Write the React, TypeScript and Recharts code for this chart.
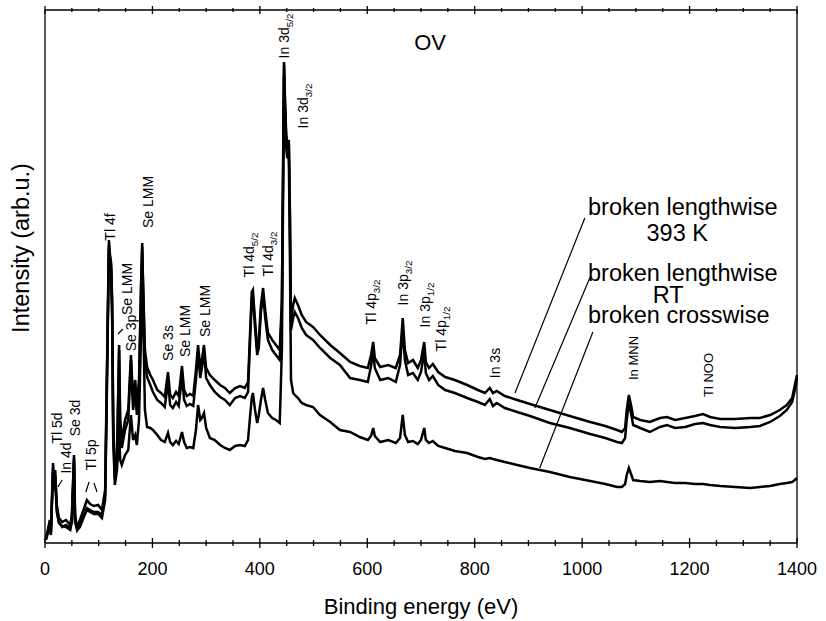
import React from 'react';
import {
  LineChart,
  Line,
  XAxis,
  YAxis,
  ReferenceDot,
  ReferenceLine
} from 'recharts';

const FONT = '"Liberation Sans", Arial, Helvetica, sans-serif';

// binding energy grid (eV), shared by the three spectra
const energy = [
  2, 6, 9, 11, 15, 17, 19, 22, 26, 32, 39, 47, 50, 54, 56, 60, 65, 73, 78, 84,
  91, 99, 106, 112, 115, 119, 121, 123, 125, 127, 130, 134, 138, 140, 143, 149, 155, 160, 164, 168,
  171, 175, 179, 181, 182, 186, 190, 196, 201, 209, 216, 223, 229, 233, 238, 244, 249, 255, 259, 264,
  270, 276, 281, 285, 289, 292, 296, 300, 307, 316, 326, 335, 344, 354, 363, 372, 378, 382, 385, 387,
  391, 395, 398, 402, 406, 410, 415, 423, 430, 437, 441, 445, 447, 449, 451, 452, 454, 456, 458, 462,
  465, 471, 478, 486, 499, 512, 531, 549, 568, 586, 601, 607, 611, 614, 624, 639, 653, 661, 666, 670,
  676, 685, 694, 700, 706, 709, 715, 722, 732, 745, 763, 786, 806, 819, 828, 834, 841, 856, 879, 903,
  940, 977, 1015, 1043, 1065, 1074, 1080, 1083, 1087, 1091, 1095, 1108, 1126, 1145, 1158, 1173, 1192, 1210, 1225, 1238,
  1257, 1285, 1313, 1331, 1350, 1368, 1381, 1391, 1396, 1400
];

// broken lengthwise, 393 K
const lengthwise393 = [
  5, 15, 23, 11, 80, 63, 73, 38, 25, 21, 23, 18, 28, 88, 28, 15, 23, 35, 43, 39,
  37, 38, 33, 53, 163, 303, 288, 281, 243, 123, 73, 88, 198, 123, 103, 123, 133, 188, 143, 163,
  138, 163, 263, 300, 273, 193, 176, 168, 163, 153, 150, 146, 171, 148, 145, 151, 147, 177, 153, 147,
  149, 147, 173, 198, 175, 183, 198, 175, 168, 163, 158, 155, 150, 155, 157, 155, 161, 213, 251, 253,
  223, 193, 203, 238, 255, 233, 210, 203, 198, 193, 243, 481, 440, 410, 398, 400, 403, 330, 223, 238,
  245, 238, 228, 221, 216, 208, 198, 190, 181, 177, 175, 188, 201, 185, 176, 178, 175, 188, 225, 193,
  180, 183, 175, 183, 201, 181, 175, 179, 171, 166, 163, 158, 153, 150, 155, 150, 152, 147, 143, 139,
  133, 127, 121, 117, 113, 111, 115, 133, 148, 138, 126, 123, 121, 125, 126, 123, 125, 127, 129, 126,
  124, 124, 125, 125, 128, 133, 138, 145, 158, 168
];

// broken lengthwise, RT
const lengthwiseRT = [
  5, 13, 21, 11, 75, 58, 68, 33, 21, 16, 18, 15, 23, 85, 23, 13, 18, 28, 35, 33,
  31, 31, 28, 48, 153, 298, 285, 278, 238, 113, 65, 81, 193, 113, 95, 113, 123, 183, 133, 151,
  128, 153, 258, 296, 268, 185, 166, 158, 151, 143, 140, 136, 161, 138, 135, 141, 137, 167, 143, 137,
  139, 137, 163, 191, 165, 175, 191, 165, 158, 151, 146, 143, 138, 145, 147, 145, 151, 205, 245, 247,
  215, 188, 195, 231, 249, 225, 203, 193, 188, 183, 233, 478, 435, 405, 393, 395, 398, 325, 213, 225,
  231, 225, 215, 208, 203, 195, 185, 178, 165, 163, 161, 177, 193, 175, 163, 165, 161, 178, 215, 183,
  168, 170, 163, 171, 191, 170, 163, 167, 158, 153, 150, 145, 141, 138, 144, 137, 140, 135, 131, 127,
  120, 115, 109, 105, 101, 100, 105, 123, 140, 130, 118, 115, 111, 116, 118, 115, 116, 119, 120, 118,
  116, 115, 116, 117, 121, 127, 133, 141, 153, 165
];

// broken crosswise
const crosswise = [
  3, 11, 18, 8, 71, 53, 61, 31, 20, 17, 16, 13, 21, 81, 21, 13, 16, 27, 33, 31,
  29, 29, 25, 43, 143, 293, 281, 273, 223, 103, 58, 73, 113, 83, 78, 88, 93, 128, 103, 108,
  98, 123, 213, 288, 253, 133, 116, 115, 113, 108, 103, 101, 110, 101, 98, 102, 99, 111, 101, 95,
  96, 95, 113, 138, 123, 125, 130, 115, 105, 103, 98, 95, 93, 97, 98, 97, 103, 128, 145, 150,
  133, 120, 128, 143, 155, 143, 130, 125, 123, 120, 193, 468, 425, 395, 385, 388, 383, 283, 163, 150,
  148, 145, 140, 138, 136, 128, 121, 113, 111, 106, 103, 107, 115, 107, 101, 103, 100, 105, 128, 108,
  101, 102, 99, 103, 115, 103, 100, 102, 97, 95, 92, 90, 86, 84, 85, 84, 83, 81, 78, 75,
  71, 66, 62, 59, 56, 56, 59, 68, 75, 69, 63, 62, 61, 62, 61, 60, 60, 59, 59, 58,
  57, 56, 55, 56, 57, 59, 60, 61, 63, 65
];

const xTicks = [
  0, 50, 100, 150, 200, 250, 300, 350, 400, 450, 500, 550, 600, 650, 700,
  750, 800, 850, 900, 950, 1000, 1050, 1100, 1150, 1200, 1250, 1300, 1350, 1400
];

// vertical peak labels: text, subscript, energy of the baseline, level of the centre
const peakLabels = [
  { text: 'Tl 5d', sub: '', ev: 31, level: 115, size: 14 },
  { text: 'In 4d', sub: '', ev: 48, level: 85, size: 14 },
  { text: 'Se 3d', sub: '', ev: 65, level: 125, size: 14 },
  { text: 'Tl 5p', sub: '', ev: 95, level: 88, size: 14 },
  { text: 'Tl 4f', sub: '', ev: 130, level: 316, size: 14 },
  { text: 'Se LMM', sub: '', ev: 162, level: 254, size: 14 },
  { text: 'Se 3p', sub: '', ev: 169, level: 210, size: 14 },
  { text: 'Se LMM', sub: '', ev: 201, level: 341, size: 14 },
  { text: 'Se 3s', sub: '', ev: 238, level: 200, size: 14 },
  { text: 'Se LMM', sub: '', ev: 270, level: 212, size: 14 },
  { text: 'Se LMM', sub: '', ev: 307, level: 232, size: 14 },
  { text: 'Tl 4d', sub: '5/2', ev: 389, level: 288, size: 14 },
  { text: 'Tl 4d', sub: '3/2', ev: 424, level: 289, size: 14 },
  { text: 'In 3d', sub: '5/2', ev: 454, level: 507, size: 14 },
  { text: 'In 3d', sub: '3/2', ev: 490, level: 437, size: 14 },
  { text: 'Tl 4p', sub: '3/2', ev: 616, level: 241, size: 14 },
  { text: 'In 3p', sub: '3/2', ev: 676, level: 260, size: 14 },
  { text: 'In 3p', sub: '1/2', ev: 717, level: 238, size: 14 },
  { text: 'Tl 4p', sub: '1/2', ev: 747, level: 214, size: 14 },
  { text: 'In 3s', sub: '', ev: 847, level: 180, size: 14 },
  { text: 'In MNN', sub: '', ev: 1104, level: 185, size: 13 },
  { text: 'Tl NOO', sub: '', ev: 1244, level: 168, size: 13 }
];

// horizontal texts: legend of the three curves and the panel name
const plainLabels = [
  { text: 'OV', ev: 717, level: 493, anchor: 'middle', size: 22 },
  { text: 'broken lengthwise', ev: 1011, level: 328, anchor: 'start', size: 23.5 },
  { text: '393 K', ev: 1177, level: 302, anchor: 'middle', size: 23.5 },
  { text: 'broken lengthwise', ev: 1011, level: 262, anchor: 'start', size: 23.5 },
  { text: 'RT', ev: 1160, level: 240, anchor: 'middle', size: 23.5 },
  { text: 'broken crosswise', ev: 1011, level: 220, anchor: 'start', size: 23.5 }
];

// leader lines from the legend texts to the curves, and small pointer ticks
const leaders = [
  [{ x: 1005, y: 325 }, { x: 875, y: 150 }],
  [{ x: 1015, y: 266 }, { x: 912, y: 135 }],
  [{ x: 1020, y: 211 }, { x: 921, y: 75 }],
  [{ x: 24, y: 56 }, { x: 32, y: 63 }],
  [{ x: 76, y: 51 }, { x: 82, y: 61 }],
  [{ x: 91, y: 60 }, { x: 97, y: 51 }],
  [{ x: 136, y: 209 }, { x: 145, y: 214 }]
];

const data = energy.map((e, i) => ({
  energy: e,
  k393: lengthwise393[i],
  rt: lengthwiseRT[i],
  cross: crosswise[i]
}));

const BottomTick = (props: any) => {
  const { x, y, payload } = props;
  const major = payload.value % 200 === 0;
  return (
    <g>
      <line x1={x} x2={x} y1={y - (major ? 5 : 3)} y2={y + (major ? 5 : 3)} stroke="#000" strokeWidth={1.3} />
      {major && (
        <text x={x} y={y + 32} textAnchor="middle" fontSize={18} fontFamily={FONT} fill="#000">
          {payload.value}
        </text>
      )}
    </g>
  );
};

const TopTick = (props: any) => {
  const { x, y, payload } = props;
  const major = payload.value % 200 === 0;
  return <line x1={x} x2={x} y1={y - (major ? 4 : 2)} y2={y + (major ? 4 : 2)} stroke="#000" strokeWidth={1.3} />;
};

const YTitle = (props: any) => {
  const vb = props.viewBox || { x: 0, y: 10, width: 45, height: 533 };
  const cx = vb.x + 29;
  const cy = vb.y + 238;
  return (
    <text x={cx} y={cy} transform={`rotate(-90 ${cx} ${cy})`} textAnchor="middle" fontSize={23.5} fontFamily={FONT} fill="#000">
      Intensity (arb.u.)
    </text>
  );
};

const PeakText = ({ cx, cy, text, sub, size }: any) => (
  <text x={cx} y={cy} transform={`rotate(-90 ${cx} ${cy})`} textAnchor="middle" fontSize={size} fontFamily={FONT} fill="#000">
    {text}
    {sub && (
      <tspan fontSize={size * 0.7} dy={4}>
        {sub}
      </tspan>
    )}
  </text>
);

const App = () => {
  return (
    <div style={{ position: 'absolute', left: 0, top: 0, background: '#fff' }}>
      <LineChart width={826} height={621} data={data} margin={{ top: 9, right: 28, bottom: 0, left: 0 }}>
        <XAxis
          dataKey="energy"
          type="number"
          domain={[0, 1400]}
          ticks={xTicks}
          interval={0}
          height={78}
          tickSize={0}
          tickMargin={0}
          tickLine={false}
          tick={<BottomTick />}
          axisLine={{ stroke: '#000', strokeWidth: 1.3 }}
          label={{ value: 'Binding energy (eV)', position: 'insideBottom', offset: 7, fontSize: 22, fill: '#000', fontFamily: FONT }}
        />
        <XAxis
          xAxisId="top"
          orientation="top"
          dataKey="energy"
          type="number"
          domain={[0, 1400]}
          ticks={xTicks}
          interval={0}
          height={1}
          tickSize={0}
          tickMargin={0}
          tickLine={false}
          tick={<TopTick />}
          axisLine={{ stroke: '#000', strokeWidth: 1.3 }}
        />
        <YAxis
          type="number"
          domain={[0, 533]}
          width={45}
          tick={false}
          tickLine={false}
          axisLine={{ stroke: '#000', strokeWidth: 1.3 }}
          label={<YTitle />}
        />
        <YAxis
          yAxisId="right"
          orientation="right"
          type="number"
          domain={[0, 533]}
          width={1}
          tick={false}
          tickLine={false}
          axisLine={{ stroke: '#000', strokeWidth: 1.3 }}
        />
        <Line type="linear" dataKey="k393" stroke="#000" strokeWidth={2.5} dot={false} isAnimationActive={false} />
        <Line type="linear" dataKey="rt" stroke="#000" strokeWidth={2.5} dot={false} isAnimationActive={false} />
        <Line type="linear" dataKey="cross" stroke="#000" strokeWidth={2.5} dot={false} isAnimationActive={false} />
        <Line xAxisId="top" yAxisId="right" dataKey="cross" stroke="none" dot={false} legendType="none" isAnimationActive={false} />
        {leaders.map((seg, i) => (
          <ReferenceLine key={`l${i}`} segment={seg} stroke="#000" strokeWidth={1.2} ifOverflow="visible" />
        ))}
        {peakLabels.map((l, i) => (
          <ReferenceDot
            key={`p${i}`}
            x={l.ev}
            y={l.level}
            ifOverflow="visible"
            shape={(p: any) => <PeakText cx={p.cx} cy={p.cy} text={l.text} sub={l.sub} size={l.size} />}
          />
        ))}
        {plainLabels.map((l, i) => (
          <ReferenceDot
            key={`t${i}`}
            x={l.ev}
            y={l.level}
            ifOverflow="visible"
            shape={(p: any) => (
              <text x={p.cx} y={p.cy} textAnchor={l.anchor} fontSize={l.size} fontFamily={FONT} fill="#000">
                {l.text}
              </text>
            )}
          />
        ))}
      </LineChart>
    </div>
  );
};

export default App;
